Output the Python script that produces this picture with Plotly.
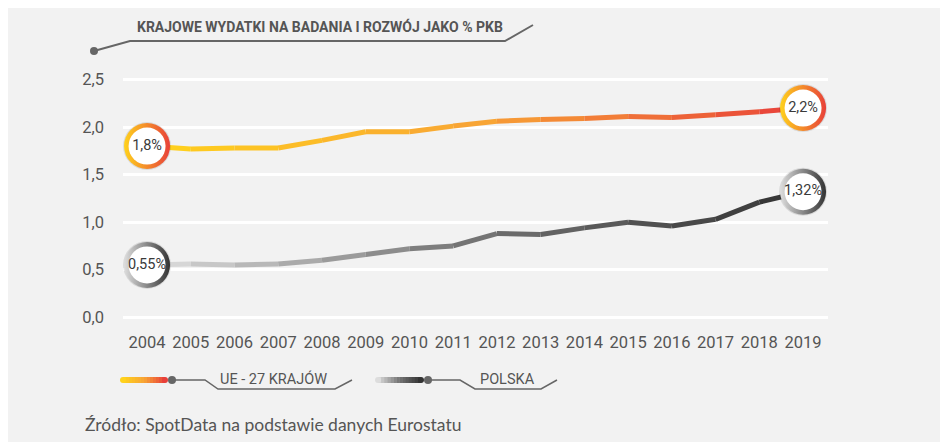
import plotly.graph_objects as go

# data (R&D spending, % of GDP)
years = list(range(2004, 2020))
ue27 = [1.80, 1.77, 1.78, 1.78, 1.86, 1.95, 1.95, 2.01, 2.06, 2.08, 2.09, 2.11, 2.10, 2.13, 2.16, 2.20]
polska = [0.55, 0.56, 0.55, 0.56, 0.60, 0.66, 0.72, 0.75, 0.88, 0.87, 0.94, 1.00, 0.96, 1.03, 1.21, 1.32]
yticks = [0.0, 0.5, 1.0, 1.5, 2.0, 2.5]
series_names = ["UE - 27 KRAJÓW", "POLSKA"]

title_txt = "KRAJOWE WYDATKI NA BADANIA I ROZWÓJ JAKO % PKB"
source_txt = "Źródło: SpotData na podstawie danych Eurostatu"

BG = "#F2F2F2"
GREY = "#666666"
TXT = "#555555"
NARROW = "Roboto, sans-serif"

# colour ramps for the two lines
eu_stops = [(0, "#FFD21C"), (0.5, "#F8A535"), (1, "#E8403A")]
pl_stops = [(0, "#DDDDDD"), (0.45, "#7A7A7A"), (1, "#333333")]


def hex2rgb(h):
    h = h.lstrip("#")
    return [int(h[i:i + 2], 16) for i in (0, 2, 4)]


def ramp(stops, t):
    for (t0, c0), (t1, c1) in zip(stops[:-1], stops[1:]):
        if t <= t1:
            f = (t - t0) / (t1 - t0) if t1 > t0 else 0
            a, b = hex2rgb(c0), hex2rgb(c1)
            return "rgb(%d,%d,%d)" % tuple(round(a[k] + (b[k] - a[k]) * f) for k in range(3))
    return stops[-1][1]


def fmt(v):
    s = ("%.2f" % v).rstrip("0")
    if s.endswith("."):
        s = s + "0"
    return s.rstrip(".").replace(".", ",") + "%"


# page puts the figure 8px in from the top-left corner (body margin)
OFF = 8
W, H = 948 - OFF, 442 - OFF
L, R, T, B = 123 - OFF, 120, 70 - OFF, 120
pw, ph = W - L - R, H - T - B


# convert reference-picture pixels to paper coords
def fx(x):
    return (x - OFF - L) / pw


def fy(y):
    return (H - B - (y - OFF)) / ph


fig = go.Figure()

# gradient lines, one segment per pair of points
for vals, stops in [(polska, pl_stops), (ue27, eu_stops)]:
    n = len(vals)
    for i in range(n - 1):
        fig.add_trace(go.Scatter(
            x=years[i:i + 2], y=vals[i:i + 2], mode="lines",
            line=dict(color=ramp(stops, (i + 0.5) / (n - 1)), width=5),
            hoverinfo="skip", showlegend=False))

# end badges
for vals, stops in [(ue27, eu_stops), (polska, pl_stops)]:
    bx = [years[0], years[-1]]
    by = [vals[0], vals[-1]]
    fig.add_trace(go.Scatter(
        x=bx, y=by, mode="markers",
        marker=dict(size=48, color="rgba(0,0,0,0.10)", line=dict(width=0)),
        hoverinfo="skip", showlegend=False))
    fig.add_trace(go.Scatter(
        x=bx, y=by, mode="markers",
        marker=dict(size=46, color=stops[0][1],
                    gradient=dict(type="horizontal", color=stops[-1][1]),
                    line=dict(width=0)),
        hoverinfo="skip", showlegend=False))
    fig.add_trace(go.Scatter(
        x=bx, y=by, mode="markers+text",
        marker=dict(size=37, color="white", line=dict(width=0)),
        text=[fmt(v) for v in by], textposition="middle center",
        textfont=dict(family=NARROW, size=14.5, color="#3A3A3A"),
        hoverinfo="skip", showlegend=False))

shapes = []
annotations = []

# title with underline connector
annotations.append(dict(x=fx(135), y=fy(27), xref="paper", yref="paper", xanchor="left",
                        yanchor="middle", showarrow=False, text="<b>%s</b>" % title_txt,
                        font=dict(family=NARROW, size=14, color=TXT)))
path = "M %f,%f L %f,%f L %f,%f L %f,%f" % (fx(94), fy(51), fx(130), fy(41), fx(505), fy(41), fx(533), fy(25))
shapes.append(dict(type="path", path=path, xref="paper", yref="paper", line=dict(color=GREY, width=2)))
shapes.append(dict(type="circle", xref="paper", yref="paper", x0=fx(90), x1=fx(98), y0=fy(47), y1=fy(55),
                   fillcolor=GREY, line=dict(width=0)))

# custom legend
legend_geom = [
    (series_names[0], eu_stops, 123, 165, 172, 205, 218, 335, 352, 218),
    (series_names[1], pl_stops, 378, 421, 428, 460, 475, 541, 557, 478),
]
for name, stops, b0, b1, dot, k1, k2, k3, k4, tx in legend_geom:
    nseg = 14
    for j in range(nseg):
        xa = b0 + (b1 - b0) * j / nseg
        xb = b0 + (b1 - b0) * (j + 1) / nseg
        shapes.append(dict(type="rect", xref="paper", yref="paper", x0=fx(xa), x1=fx(xb) + 0.0005,
                           y0=fy(383), y1=fy(377), fillcolor=ramp(stops, (j + 0.5) / nseg),
                           line=dict(width=0)))
    for xc, t in [(b0, 0), (b1, 1)]:
        shapes.append(dict(type="circle", xref="paper", yref="paper", x0=fx(xc - 3), x1=fx(xc + 3),
                           y0=fy(383), y1=fy(377), fillcolor=ramp(stops, t), line=dict(width=0)))
    path = "M %f,%f L %f,%f L %f,%f L %f,%f L %f,%f" % (
        fx(dot), fy(380), fx(k1), fy(380), fx(k2), fy(389), fx(k3), fy(389), fx(k4), fy(380))
    shapes.append(dict(type="path", path=path, xref="paper", yref="paper", line=dict(color=GREY, width=1.5)))
    shapes.append(dict(type="circle", xref="paper", yref="paper", x0=fx(dot - 4), x1=fx(dot + 4),
                       y0=fy(384), y1=fy(376), fillcolor=GREY, line=dict(width=0)))
    annotations.append(dict(x=fx(tx), y=fy(379), xref="paper", yref="paper", xanchor="left",
                            yanchor="middle", showarrow=False, text=name,
                            font=dict(family=NARROW, size=14.5, color=TXT)))

# source line
annotations.append(dict(x=fx(83), y=fy(424), xref="paper", yref="paper", xanchor="left",
                        yanchor="middle", showarrow=False, text=source_txt,
                        font=dict(family="Lato, sans-serif", size=17.5, color=TXT)))

fig.update_layout(
    width=W, height=H,
    margin=dict(l=L, r=R, t=T, b=B, pad=0),
    paper_bgcolor=BG, plot_bgcolor=BG,
    separators=", ",
    showlegend=False,
    shapes=shapes,
    annotations=annotations,
    xaxis=dict(range=[2003.45, 2019.57], tickmode="array", tickvals=years,
               ticktext=[str(y) for y in years], showgrid=False, zeroline=False,
               showline=False, ticks="", ticklabelstandoff=8,
               tickfont=dict(family=NARROW, size=16.5, color=TXT)),
    yaxis=dict(range=[-0.05, 2.6], tickmode="array", tickvals=yticks,
               ticktext=[("%.1f" % v).replace(".", ",") for v in yticks],
               showgrid=True, gridcolor="white", gridwidth=2.5, zeroline=False,
               showline=False, ticks="", ticklabelstandoff=18,
               tickfont=dict(family=NARROW, size=16.5, color=TXT)),
)

fig.write_html("out.html")
